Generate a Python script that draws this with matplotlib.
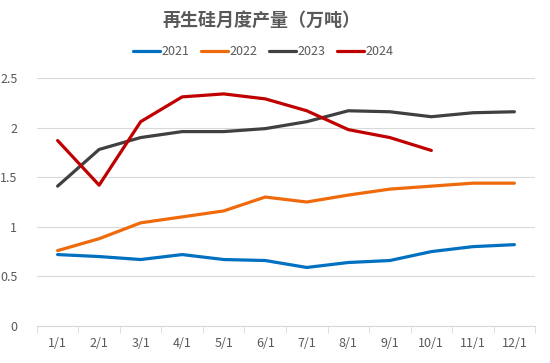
import matplotlib.pyplot as plt
import numpy as np

plt.rcParams['font.family'] = ['Noto Sans CJK SC', 'DejaVu Sans']

months = ['1/1', '2/1', '3/1', '4/1', '5/1', '6/1', '7/1', '8/1', '9/1', '10/1', '11/1', '12/1']
y2021 = [0.72, 0.70, 0.67, 0.72, 0.67, 0.66, 0.59, 0.64, 0.66, 0.75, 0.80, 0.82]
y2022 = [0.76, 0.88, 1.04, 1.10, 1.16, 1.30, 1.25, 1.32, 1.38, 1.41, 1.44, 1.44]
y2023 = [1.41, 1.78, 1.90, 1.96, 1.96, 1.99, 2.06, 2.17, 2.16, 2.11, 2.15, 2.16]
y2024 = [1.87, 1.42, 2.06, 2.31, 2.34, 2.29, 2.17, 1.98, 1.90, 1.77]

series = [('2021', y2021, '#0070C0'),
          ('2022', y2022, '#EE6A0A'),
          ('2023', y2023, '#404040'),
          ('2024', y2024, '#C00000')]

fig = plt.figure(figsize=(5.5, 3.63), dpi=100)
ax = fig.add_axes([0.067, 0.102, 0.906, 0.683])

x = np.arange(len(months))
for name, vals, col in series:
    ax.plot(x[:len(vals)], vals, color=col, lw=2.3, label=name, solid_capstyle='round')

ax.set_xlim(-0.5, len(months) - 0.5)
ax.set_ylim(0, 2.5)
ax.set_yticks([0, 0.5, 1, 1.5, 2, 2.5])
ax.set_yticklabels(['0', '0.5', '1', '1.5', '2', '2.5'])
ax.set_xticks(x)
ax.set_xticklabels(months)
ax.set_xticks(np.arange(len(months) + 1) - 0.5, minor=True)
ax.tick_params(axis='x', which='major', length=0, pad=8, labelsize=9, colors='#595959')
ax.tick_params(axis='x', which='minor', length=5, color='#D9D9D9')
ax.tick_params(axis='y', length=0, pad=14, labelsize=9, colors='#595959')
ax.grid(axis='y', color='#D9D9D9', lw=0.8)
ax.set_axisbelow(True)
for s in ['top', 'right', 'left']:
    ax.spines[s].set_visible(False)
ax.spines['bottom'].set_color('#D9D9D9')

fig.text(0.475, 0.945, '再生硅月度产量（万吨）', ha='center', va='center',
         fontsize=13, fontweight='bold', color='#595959')
fig.legend(loc='center', bbox_to_anchor=(0.478, 0.857), ncol=4, frameon=False,
           fontsize=9, labelcolor='#595959', handlelength=2.2, handletextpad=0.1,
           columnspacing=0.9)

fig.savefig('out.png', dpi=100)
